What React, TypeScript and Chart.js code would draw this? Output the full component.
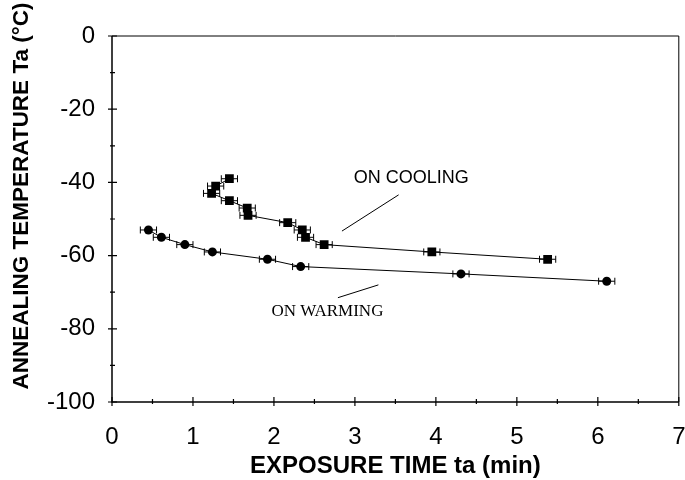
import React, { useEffect, useRef } from "react";
import { Chart, registerables } from "chart.js";

Chart.register(...registerables);

// ON COOLING (squares)
const timeCooling = [1.45, 1.28, 1.23, 1.45, 1.67, 1.68, 2.17, 2.35, 2.39, 2.62, 3.95, 5.38];
const tempCooling = [-39, -41, -43, -45, -47, -49, -51, -53, -55, -57, -59, -61];
const errCooling = [0.1, 0.1, 0.1, 0.1, 0.1, 0.1, 0.1, 0.1, 0.1, 0.1, 0.1, 0.1];

// ON WARMING (circles)
const timeWarming = [0.45, 0.61, 0.9, 1.24, 1.92, 2.33, 4.31, 6.11];
const tempWarming = [-53, -55, -57, -59, -61, -63, -65, -67];
const errWarming = [0.1, 0.1, 0.1, 0.1, 0.1, 0.1, 0.1, 0.1];

const xTicks = [0, 1, 2, 3, 4, 5, 6, 7];
const yTicks = [0, -20, -40, -60, -80, -100];

const xTitle = "EXPOSURE TIME ta (min)";
const yTitle = "ANNEALING TEMPERATURE Ta (°C)";
const coolingLabel = "ON COOLING";
const warmingLabel = "ON WARMING";

// annotation anchors in data units
const coolingText = { x: 2.985, y: -38.8 };
const coolingLeader = [ { x: 2.84, y: -53.3 }, { x: 3.54, y: -43.4 } ];
const warmingText = { x: 1.97, y: -75.3 };
const warmingLeader = [ { x: 2.79, y: -71.5 }, { x: 3.29, y: -68 } ];

const SANS = "'Liberation Sans', Arial, Helvetica, sans-serif";
const SERIF = "'Liberation Serif', 'Times New Roman', serif";

const customPlugin = {
  id: "custom",
  beforeDatasetsDraw(chart: any) {
    const ctx = chart.ctx;
    const xs = chart.scales.x;
    const ys = chart.scales.y;
    ctx.save();
    ctx.strokeStyle = "#000";
    ctx.lineWidth = 1;
    const drawErr = (t: number[], v: number[], e: number[]) => {
      for (let i = 0; i < t.length; i++) {
        const y = ys.getPixelForValue(v[i]);
        const x1 = xs.getPixelForValue(t[i] - e[i]);
        const x2 = xs.getPixelForValue(t[i] + e[i]);
        ctx.beginPath();
        ctx.moveTo(x1, y);
        ctx.lineTo(x2, y);
        ctx.moveTo(x1, y - 3.5);
        ctx.lineTo(x1, y + 3.5);
        ctx.moveTo(x2, y - 3.5);
        ctx.lineTo(x2, y + 3.5);
        ctx.stroke();
      }
    };
    drawErr(timeCooling, tempCooling, errCooling);
    drawErr(timeWarming, tempWarming, errWarming);
    ctx.restore();
  },
  afterDraw(chart: any) {
    const ctx = chart.ctx;
    const xs = chart.scales.x;
    const ys = chart.scales.y;
    const a = chart.chartArea;
    ctx.save();
    ctx.strokeStyle = "#000";
    // frame
    ctx.lineWidth = 1;
    ctx.beginPath();
    ctx.moveTo(a.left, a.top);
    ctx.lineTo(a.right, a.top);
    ctx.lineTo(a.right, a.bottom);
    ctx.stroke();
    ctx.lineWidth = 1.5;
    ctx.beginPath();
    ctx.moveTo(a.left, a.top);
    ctx.lineTo(a.left, a.bottom);
    ctx.lineTo(a.right, a.bottom);
    ctx.stroke();
    // ticks
    ctx.lineWidth = 1.2;
    ctx.beginPath();
    for (let v = 0; v <= 7.0001; v += 0.5) {
      const px = xs.getPixelForValue(v);
      const major = Math.abs(v - Math.round(v)) < 1e-6;
      ctx.moveTo(px, a.bottom - (major ? 5 : 3));
      ctx.lineTo(px, a.bottom + (major ? 4 : 2));
    }
    for (let v = 0; v >= -100.0001; v -= 10) {
      const py = ys.getPixelForValue(v);
      const major = Math.abs(v % 20) < 1e-6;
      ctx.moveTo(a.left - (major ? 4 : 2), py);
      ctx.lineTo(a.left + (major ? 5 : 3), py);
    }
    ctx.stroke();
    // axis titles
    ctx.fillStyle = "#000";
    ctx.textAlign = "center";
    ctx.textBaseline = "middle";
    ctx.font = `bold 24px ${SANS}`;
    ctx.fillText(xTitle, (a.left + a.right) / 2, a.bottom + 64);
    ctx.save();
    ctx.font = `bold 22.5px ${SANS}`;
    ctx.translate(22, a.top + 160);
    ctx.rotate(-Math.PI / 2);
    ctx.fillText(yTitle, 0, 0);
    ctx.restore();
    // annotations
    ctx.textAlign = "left";
    ctx.font = `18px ${SANS}`;
    ctx.fillText(coolingLabel, xs.getPixelForValue(coolingText.x), ys.getPixelForValue(coolingText.y));
    ctx.font = `17px ${SERIF}`;
    ctx.fillText(warmingLabel, xs.getPixelForValue(warmingText.x), ys.getPixelForValue(warmingText.y));
    ctx.lineWidth = 1;
    const leader = (p: { x: number; y: number }[]) => {
      ctx.beginPath();
      ctx.moveTo(xs.getPixelForValue(p[0].x), ys.getPixelForValue(p[0].y));
      ctx.lineTo(xs.getPixelForValue(p[1].x), ys.getPixelForValue(p[1].y));
      ctx.stroke();
    };
    leader(coolingLeader);
    leader(warmingLeader);
    ctx.restore();
  },
};

export default function App() {
  const ref = useRef<HTMLCanvasElement | null>(null);
  useEffect(() => {
    if (!ref.current) return;
    const chart = new Chart(ref.current, {
      type: "scatter",
      data: {
        datasets: [
          {
            label: coolingLabel,
            data: timeCooling.map((t, i) => ({ x: t, y: tempCooling[i] })),
            showLine: true,
            borderColor: "#000",
            borderWidth: 1,
            backgroundColor: "#000",
            pointStyle: "rect",
            pointRadius: 6.2,
            pointBorderWidth: 0,
          },
          {
            label: warmingLabel,
            data: timeWarming.map((t, i) => ({ x: t, y: tempWarming[i] })),
            showLine: true,
            borderColor: "#000",
            borderWidth: 1,
            backgroundColor: "#000",
            pointStyle: "circle",
            pointRadius: 4.5,
            pointBorderWidth: 0,
          },
        ],
      },
      options: {
        responsive: false,
        animation: false,
        layout: { padding: { top: 36, right: 3, left: 0, bottom: 0 } },
        plugins: { legend: { display: false }, tooltip: { enabled: false } },
        scales: {
          x: {
            type: "linear",
            min: 0,
            max: 7,
            afterFit: (s: any) => {
              s.height = 78;
              s.paddingLeft = 0;
              s.paddingRight = 0;
            },
            afterBuildTicks: (s: any) => {
              s.ticks = xTicks.map((v) => ({ value: v }));
            },
            grid: { display: false, drawTicks: false },
            border: { display: false },
            ticks: {
              padding: 21,
              color: "#000",
              font: { family: SANS, size: 24 },
              maxRotation: 0,
            },
          },
          y: {
            type: "linear",
            min: -100,
            max: 0,
            afterFit: (s: any) => {
              s.width = 112;
              s.paddingTop = 0;
              s.paddingBottom = 0;
            },
            afterBuildTicks: (s: any) => {
              s.ticks = yTicks.map((v) => ({ value: v }));
            },
            grid: { display: false, drawTicks: false },
            border: { display: false },
            ticks: {
              padding: 17,
              color: "#000",
              font: { family: SANS, size: 24 },
            },
          },
        },
      },
      plugins: [customPlugin],
    } as any);
    return () => chart.destroy();
  }, []);
  return (
    <div style={{ position: "absolute", left: 0, top: 0, width: 685, height: 480, background: "#fff" }}>
      <canvas ref={ref} width={685} height={480} />
    </div>
  );
}
